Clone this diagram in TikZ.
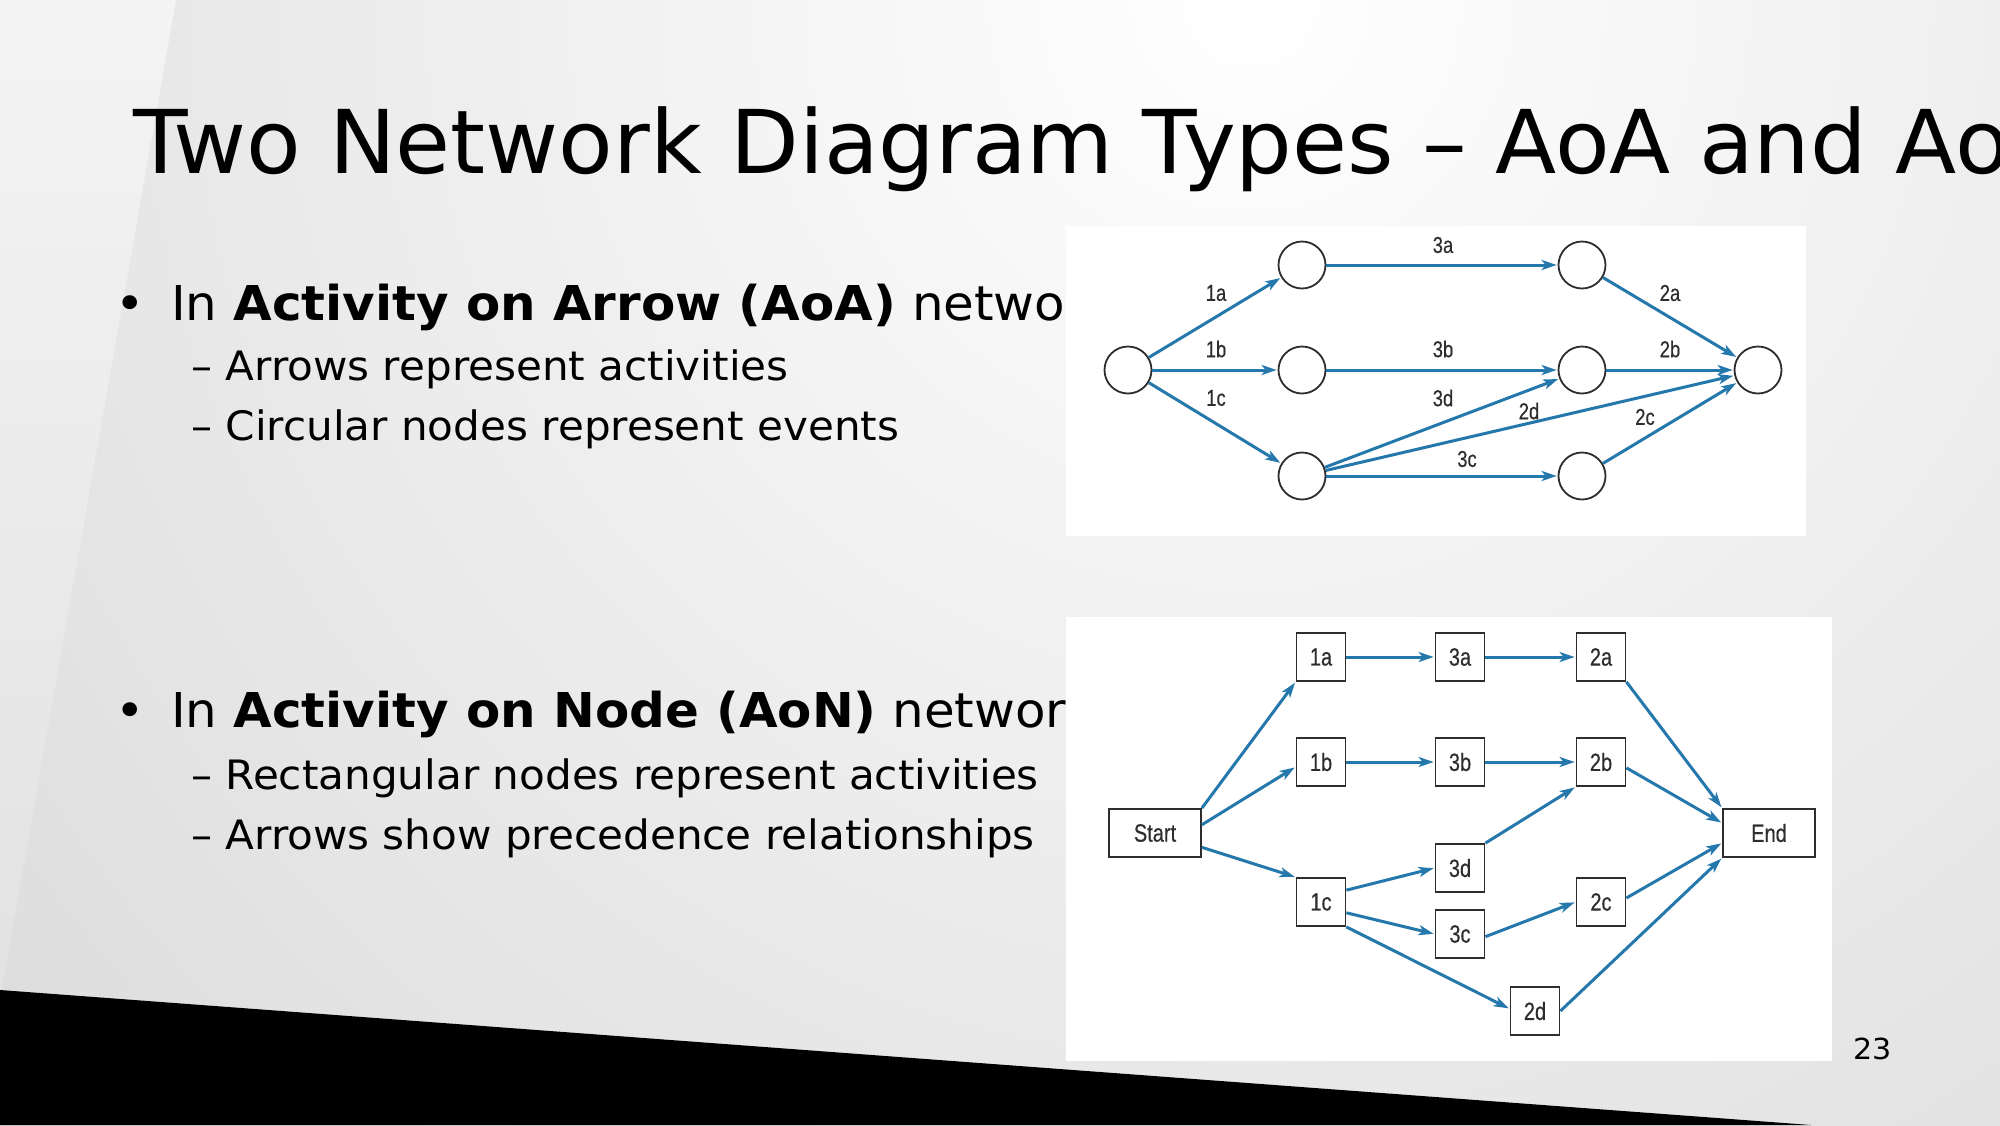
\documentclass[tikz,border=0pt]{standalone}
\usepackage{fontspec}
\setmainfont{DejaVu Sans}[FakeStretch=1.04]
\newfontfamily\titlefont{DejaVu Sans}[FakeStretch=1.015]
\newfontfamily\lblfont[FakeStretch=0.8,FakeBold=0.4]{Liberation Sans}
\usetikzlibrary{arrows.meta}
\definecolor{arrowblue}{RGB}{36,120,172}
\definecolor{boxline}{RGB}{45,45,45}
\definecolor{lbl}{RGB}{45,45,45}
\definecolor{wedgetop}{RGB}{244,244,244}
\definecolor{wedgebot}{RGB}{226,226,226}
\definecolor{bgouter}{RGB}{200,200,200}
\begin{document}
\begin{tikzpicture}[x=1pt,y=-1pt,
  ev/.style={circle, draw=boxline, line width=1.8pt, fill=white, minimum size=47pt, inner sep=0pt},
  act/.style={rectangle, draw=boxline, line width=1.8pt, fill=white, minimum width=49pt, minimum height=48pt, inner sep=0pt, font=\lblfont\fontsize{25}{25}\selectfont, text=lbl},
  wideact/.style={act, minimum width=92pt},
  flow/.style={draw=arrowblue, line width=3pt, -{Stealth[length=15pt,width=10pt,inset=4pt]}, shorten >=1pt},
  lab/.style={font=\lblfont\fontsize{23}{23}\selectfont, text=lbl, inner sep=0pt},
  bigtxt/.style={anchor=base west, inner sep=0pt, font=\fontsize{48}{50}\selectfont},
  subtxt/.style={anchor=base west, inner sep=0pt, font=\fontsize{40.5}{42}\selectfont},
  picbox/.style={fill=white}
]
\useasboundingbox (0,0) rectangle (2000,1125);
\clip (0,0) rectangle (2000,1125);
% background
\fill[bgouter] (0,0) rectangle (2000,1125);
\shade[inner color=white, outer color=bgouter] (1250,0) circle (2600pt);
\shade[top color=wedgetop, bottom color=wedgebot] (0,0) -- (176,0) -- (0,1000) -- cycle;
\fill[black] (0,990) -- (1811,1125) -- (0,1125) -- cycle;

% title
\node[anchor=base west, inner sep=0pt, font=\titlefont\fontsize{88}{100}\selectfont] (title) at (133,173) {Two Network Diagram Types – AoA and AoN};

% bullets
\node[anchor=base, inner sep=0pt, font=\fontsize{48}{50}\selectfont] (b1dot) at (130,320) {•};
\node[bigtxt] (b1) at (171,320) {In \textbf{Activity on Arrow (AoA)} networks};
\node[subtxt] (b1s1) at (191,380) {– Arrows represent activities};
\node[subtxt] (b1s2) at (191,440) {– Circular nodes represent events};
\node[anchor=base, inner sep=0pt, font=\fontsize{48}{50}\selectfont] (b2dot) at (130,727) {•};
\node[bigtxt] (b2) at (171,727) {In \textbf{Activity on Node (AoN)} networks};
\node[subtxt] (b2s1) at (191,789) {– Rectangular nodes represent activities};
\node[subtxt] (b2s2) at (191,849) {– Arrows show precedence relationships};

\node[anchor=base west, inner sep=0pt, font=\fontsize{29}{30}\selectfont] (pg) at (1853,1059) {23};

% ---------- AoA picture ----------
\fill[picbox] (1066,226) rectangle (1806,536);
\node[ev] (s) at (1128,370) {};
\node[ev] (u1) at (1302,265) {};
\node[ev] (u2) at (1302,370) {};
\node[ev] (u3) at (1302,476) {};
\node[ev] (v1) at (1582,265) {};
\node[ev] (v2) at (1582,370) {};
\node[ev] (v3) at (1582,476) {};
\node[ev] (e) at (1758,370) {};
\draw[flow] (s) -- (u1);
\draw[flow] (s) -- (u2);
\draw[flow] (s) -- (u3);
\draw[flow] (u1) -- (v1);
\draw[flow] (u2) -- (v2);
\draw[flow] (u3) -- (v2);
\draw[flow] (u3) -- (e);
\draw[flow] (u3) -- (v3);
\draw[flow] (v1) -- (e);
\draw[flow] (v2) -- (e);
\draw[flow] (v3) -- (e);
\node[lab] (l1a) at (1216,293) {1a};
\node[lab] (l1b) at (1216,349) {1b};
\node[lab] (l1c) at (1216,398) {1c};
\node[lab] (l3a) at (1443,245) {3a};
\node[lab] (l3b) at (1443,349) {3b};
\node[lab] (l3d) at (1443,398) {3d};
\node[lab] (l2d) at (1529,411) {2d};
\node[lab] (l3c) at (1467,459) {3c};
\node[lab] (l2a) at (1670,293) {2a};
\node[lab] (l2b) at (1670,349) {2b};
\node[lab] (l2c) at (1645,417) {2c};

% ---------- AoN picture ----------
\fill[picbox] (1066,617) rectangle (1832,1061);
\node[wideact] (Start) at (1155,833) {Start};
\node[wideact] (End) at (1769,833) {End};
\node[act] (n1a) at (1321,657) {1a};
\node[act] (n3a) at (1460,657) {3a};
\node[act] (n2a) at (1601,657) {2a};
\node[act] (n1b) at (1321,762) {1b};
\node[act] (n3b) at (1460,762) {3b};
\node[act] (n2b) at (1601,762) {2b};
\node[act] (n3d) at (1460,868) {3d};
\node[act] (n1c) at (1321,902) {1c};
\node[act] (n2c) at (1601,902) {2c};
\node[act] (n3c) at (1460,934) {3c};
\node[act] (n2d) at (1535,1011) {2d};
\draw[flow] (Start.north east) -- (n1a.south west);
\draw[flow] (Start.10) -- (n1b.191);
\draw[flow] (Start.-17) -- (n1c.north west);
\draw[flow] (n1a.east) -- (n3a.west);
\draw[flow] (n3a.east) -- (n2a.west);
\draw[flow] (n1b.east) -- (n3b.west);
\draw[flow] (n3b.east) -- (n2b.west);
\draw[flow] (n2a.south east) -- (End.north west);
\draw[flow] (n2b.-13) -- (End.168);
\draw[flow] (n3d.north east) -- (n2b.south west);
\draw[flow] (n1c.25) -- (n3d.west);
\draw[flow] (n1c.-23) -- (n3c.west);
\draw[flow] (n1c.south east) -- (n2d.175);
\draw[flow] (n3c.-6) -- (n2c.west);
\draw[flow] (n2c.9) -- (End.192);
\draw[flow] (n2d.east) -- (End.south west);
\end{tikzpicture}
\end{document}
